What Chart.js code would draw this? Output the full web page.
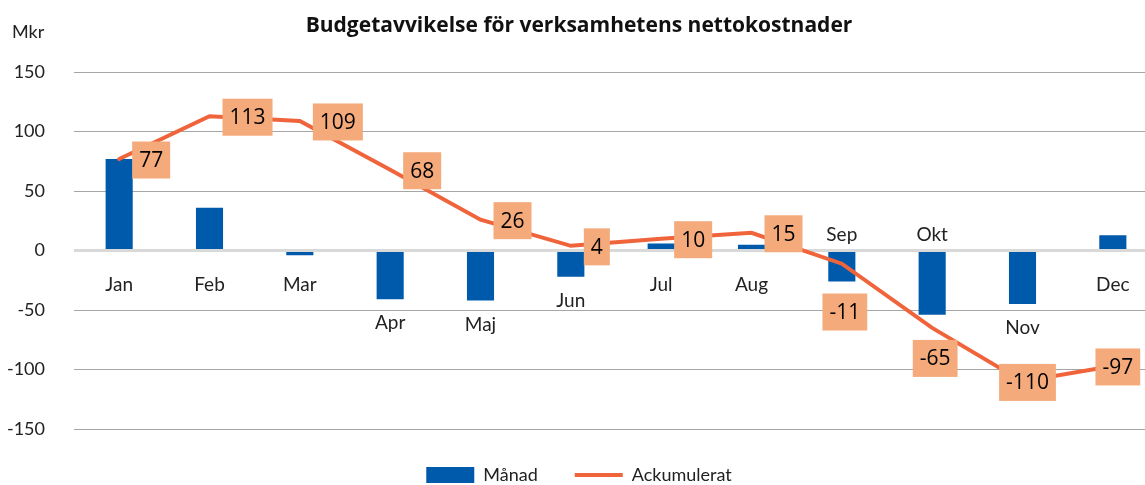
<!DOCTYPE html>
<html>
<head>
<meta charset="utf-8">
<script src="https://cdn.jsdelivr.net/npm/chart.js@4.4.0/dist/chart.umd.min.js"></script>
<style>
  html, body { margin: 0; padding: 0; overflow: hidden; background: #fff; }
  #wrap { width: 1168px; height: 494px; }
</style>
</head>
<body>
<div id="wrap"><canvas id="budgetChart"></canvas></div>
<script>
const months = ['Jan', 'Feb', 'Mar', 'Apr', 'Maj', 'Jun', 'Jul', 'Aug', 'Sep', 'Okt', 'Nov', 'Dec'];
const monthly = [77, 36, -4, -41, -42, -22, 6, 5, -26, -54, -45, 13];
const cumulative = [77, 113, 109, 68, 26, 4, 10, 15, -11, -65, -110, -97];
const yTicks = [-150, -100, -50, 0, 50, 100, 150];

// where each month label / value box goes
const monthAbove = ['Sep', 'Okt'];
const boxPlacement = ['right', 'right', 'right', 'right', 'right', 'right', 'right', 'right', 'below', 'below', 'center', 'center'];

const labelPlugin = {
    id: 'barLabels',
    afterDatasetsDraw(chart) {
        const ctx = chart.ctx;
        const zero = chart.scales.y.getPixelForValue(0);
        const bars = chart.getDatasetMeta(0).data;
        const points = chart.getDatasetMeta(1).data;
        ctx.save();

        // unit
        ctx.font = '18px Lato';
        ctx.fillStyle = '#222';
        ctx.textAlign = 'left';
        ctx.textBaseline = 'middle';
        ctx.fillText('Mkr', 12, 32);

        // month names next to the bars
        ctx.font = '19px Lato';
        ctx.textAlign = 'center';
        bars.forEach((bar, i) => {
            let y;
            if (monthAbove.includes(months[i])) y = zero - 16;
            else y = Math.max(zero + 34, bar.y + 24);
            ctx.fillText(months[i], bar.x, y);
        });

        // value boxes for the cumulative line
        ctx.font = '21px "Open Sans"';
        points.forEach((pt, i) => {
            const txt = String(cumulative[i]);
            const w = ctx.measureText(txt).width + 14;
            const h = 37;
            let cx = pt.x, cy = pt.y + 1;
            if (boxPlacement[i] === 'right') {
                cx = pt.x + 13 + w / 2;
            } else if (boxPlacement[i] === 'below') {
                cx = pt.x + 3;
                cy = Math.max(pt.y, bars[i].y) + 12 + h / 2;
            } else {
                cx = pt.x + 5;
                cy = pt.y + 1;
            }
            ctx.fillStyle = '#f5aa7b';
            ctx.fillRect(cx - w / 2, cy - h / 2, w, h);
            ctx.fillStyle = '#000';
            ctx.fillText(txt, cx, cy + 1);
        });
        ctx.restore();
    }
};

const ctx = document.getElementById('budgetChart').getContext('2d');

new Chart(ctx, {
    data: {
        labels: months,
        datasets: [{
            type: 'bar',
            label: 'Månad',
            data: monthly,
            backgroundColor: '#005aab',
            borderWidth: 0,
            barPercentage: 0.3,
            categoryPercentage: 1,
            pointStyle: 'rect',
            order: 1
        }, {
            type: 'line',
            label: 'Ackumulerat',
            data: cumulative,
            borderColor: '#f0643c',
            backgroundColor: '#f0643c',
            borderWidth: 4,
            borderCapStyle: 'round',
            pointRadius: 0,
            pointHoverRadius: 0,
            tension: 0,
            pointStyle: 'line',
            order: 0
        }]
    },
    options: {
        responsive: true,
        maintainAspectRatio: false,
        animation: false,
        layout: { padding: { left: 0, right: 10, top: 0, bottom: 0 } },
        plugins: {
            title: {
                display: true,
                text: 'Budgetavvikelse för verksamhetens nettokostnader',
                color: '#111',
                font: { family: '"Open Sans"', size: 21, weight: 'bold' },
                padding: { top: 13, bottom: 34 }
            },
            legend: {
                position: 'bottom',
                labels: {
                    usePointStyle: true,
                    pointStyleWidth: 48,
                    boxHeight: 16,
                    padding: 37,
                    color: '#222',
                    font: { family: 'Lato', size: 18 },
                    sort: (a, b) => a.datasetIndex - b.datasetIndex
                }
            },
            tooltip: { enabled: false }
        },
        scales: {
            x: { display: false },
            y: {
                min: -150,
                max: 150,
                afterBuildTicks: scale => { scale.ticks = yTicks.map(v => ({ value: v })); },
                afterFit: scale => { scale.width = 74; },
                border: { display: false },
                grid: {
                    drawTicks: false,
                    color: c => c.tick.value === 0 ? '#d9d9d9' : '#a6a6a6',
                    lineWidth: c => c.tick.value === 0 ? 3 : 1
                },
                ticks: {
                    padding: 29,
                    color: '#222',
                    font: { family: 'Lato', size: 18 }
                }
            }
        }
    },
    plugins: [labelPlugin]
});
</script>
</body>
</html>
